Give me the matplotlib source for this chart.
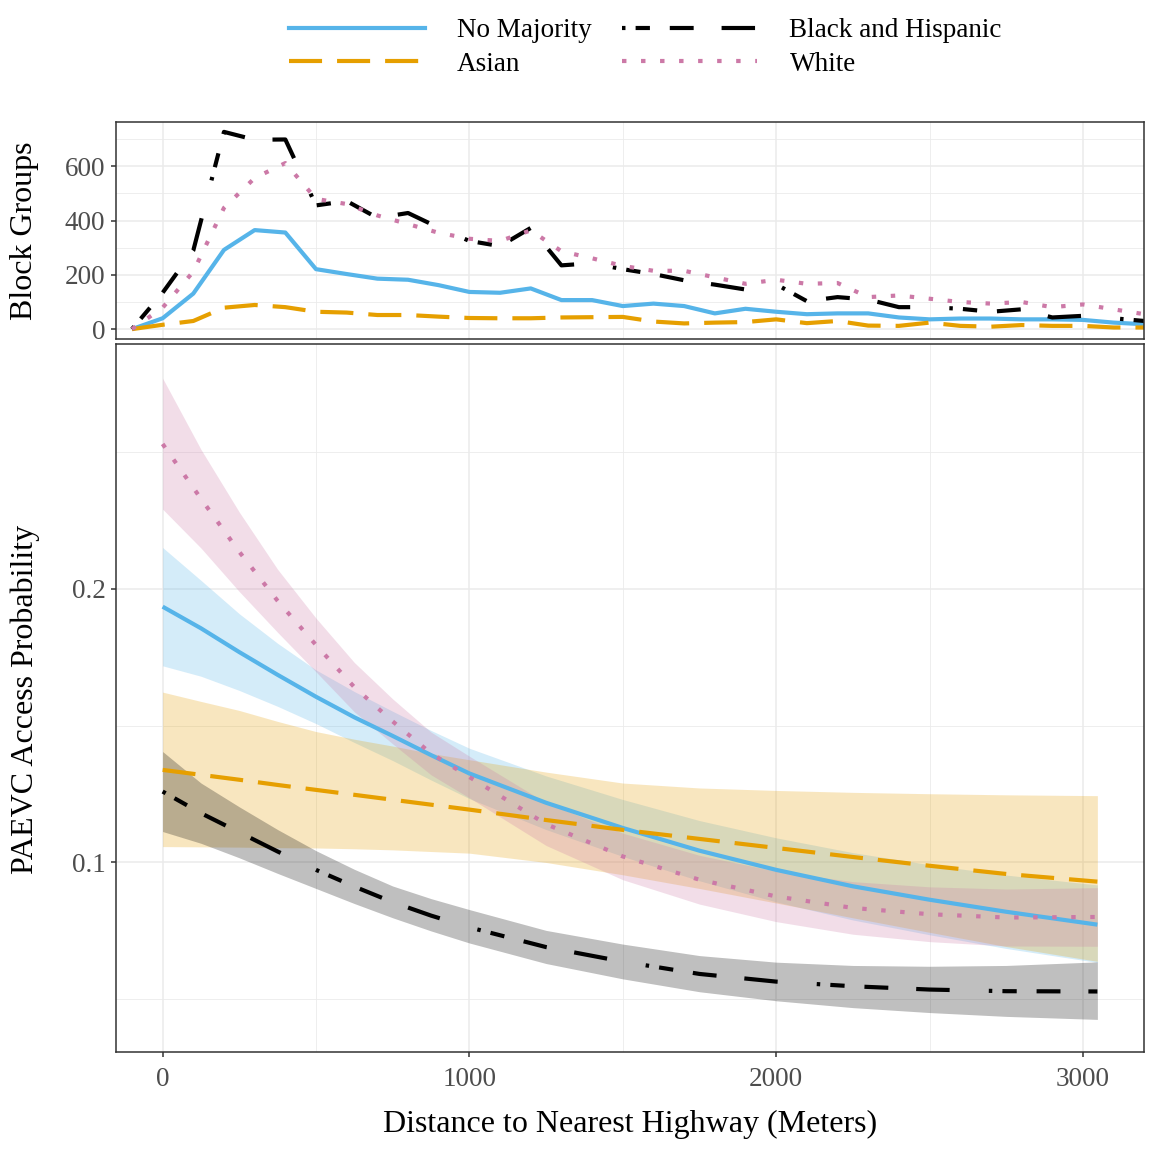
import matplotlib
matplotlib.use("Agg")
import matplotlib.pyplot as plt
from matplotlib.lines import Line2D

plt.rcParams['font.family'] = ['Liberation Serif', 'DejaVu Serif']
plt.rcParams['lines.scale_dashes'] = False

# ---------------- data ----------------
groups = ["No Majority", "Asian", "Black and Hispanic", "White"]
colors = {"No Majority": "#56B4E9", "Asian": "#E69F00",
          "Black and Hispanic": "#000000", "White": "#CC79A7"}

# top panel: block-group counts per 100 m distance bin
bins = [-100, 0, 100, 200, 300, 400, 500, 600, 700, 800, 900, 1000, 1100, 1200,
        1300, 1400, 1500, 1600, 1700, 1800, 1900, 2000, 2100, 2200, 2300, 2400,
        2500, 2600, 2700, 2800, 2900, 3000, 3100, 3200, 3300]
count_nomaj = [0, 40, 131, 292, 365, 356, 221, 203, 186, 182, 162, 137, 134, 150,
               107, 107, 85, 94, 85, 58, 75, 64, 55, 58, 58, 43,
               36, 39, 39, 36, 36, 34, 24, 18, 15]
count_asian = [0, 16, 30, 79, 89, 81, 64, 61, 52, 52, 46, 41, 40, 40,
               43, 44, 45, 28, 21, 24, 26, 36, 22, 30, 13, 12,
               24, 12, 9, 15, 12, 12, 6, 6, 5]
count_bh = [0, 134, 290, 727, 698, 699, 456, 472, 410, 428, 374, 325, 306, 373,
            235, 243, 221, 203, 180, 164, 146, 165, 103, 118, 109, 81,
            81, 75, 64, 73, 43, 49, 40, 30, 25]
count_white = [0, 79, 212, 447, 557, 612, 480, 461, 419, 387, 355, 333, 325, 364,
               287, 261, 233, 215, 215, 191, 167, 182, 167, 170, 118, 124,
               112, 100, 94, 100, 81, 91, 73, 55, 40]

# bottom panel: predicted access probability with confidence band
dist = [0, 125, 250, 375, 500, 625, 750, 875, 1000, 1250, 1500, 1750, 2000,
        2250, 2500, 2750, 3047]
p_nomaj = [0.1934, 0.1855, 0.1768, 0.1685, 0.1605, 0.1530, 0.1462, 0.1392, 0.1325,
           0.1218, 0.1126, 0.1043, 0.0973, 0.0913, 0.0864, 0.0820, 0.0773]
lo_nomaj = [0.1718, 0.1680, 0.1628, 0.1570, 0.1507, 0.1438, 0.1372, 0.1301, 0.1233,
            0.1120, 0.1022, 0.0933, 0.0856, 0.0790, 0.0736, 0.0686, 0.0635]
hi_nomaj = [0.2150, 0.2030, 0.1908, 0.1800, 0.1703, 0.1624, 0.1552, 0.1482, 0.1417,
            0.1316, 0.1230, 0.1153, 0.1090, 0.1036, 0.0992, 0.0954, 0.0918]

p_asian = [0.1338, 0.1320, 0.1302, 0.1283, 0.1265, 0.1247, 0.1229, 0.1211, 0.1193,
           0.1155, 0.1119, 0.1086, 0.1053, 0.1020, 0.0988, 0.0958, 0.0930]
lo_asian = [0.1058, 0.1057, 0.1056, 0.1054, 0.1053, 0.1050, 0.1046, 0.1040, 0.1034,
            0.1000, 0.0955, 0.0905, 0.0852, 0.0798, 0.0745, 0.0693, 0.0639]
hi_asian = [0.1622, 0.1588, 0.1555, 0.1515, 0.1478, 0.1450, 0.1425, 0.1398, 0.1375,
            0.1330, 0.1290, 0.1272, 0.1263, 0.1256, 0.1251, 0.1247, 0.1244]

p_bh = [0.1259, 0.1180, 0.1110, 0.1040, 0.0973, 0.0912, 0.0855, 0.0806, 0.0763,
        0.0691, 0.0638, 0.0593, 0.0565, 0.0548, 0.0536, 0.0530, 0.0529]
lo_bh = [0.1113, 0.1070, 0.1017, 0.0960, 0.0905, 0.0850, 0.0798, 0.0750, 0.0706,
         0.0631, 0.0575, 0.0528, 0.0495, 0.0470, 0.0452, 0.0438, 0.0427]
hi_bh = [0.1405, 0.1290, 0.1203, 0.1120, 0.1043, 0.0975, 0.0914, 0.0868, 0.0828,
         0.0752, 0.0702, 0.0660, 0.0636, 0.0624, 0.0621, 0.0624, 0.0637]

p_white = [0.2528, 0.2328, 0.2134, 0.1955, 0.1794, 0.1640, 0.1515, 0.1398, 0.1312,
           0.1140, 0.1022, 0.0937, 0.0876, 0.0834, 0.0811, 0.0799, 0.0801]
lo_white = [0.2290, 0.2148, 0.1989, 0.1840, 0.1696, 0.1550, 0.1433, 0.1320, 0.1236,
            0.1062, 0.0937, 0.0848, 0.0784, 0.0738, 0.0711, 0.0695, 0.0694]
hi_white = [0.2768, 0.2508, 0.2279, 0.2070, 0.1892, 0.1730, 0.1597, 0.1476, 0.1388,
            0.1218, 0.1107, 0.1026, 0.0968, 0.0930, 0.0911, 0.0903, 0.0908]

counts = {"No Majority": count_nomaj, "Asian": count_asian,
          "Black and Hispanic": count_bh, "White": count_white}
preds = {"No Majority": (p_nomaj, lo_nomaj, hi_nomaj),
         "Asian": (p_asian, lo_asian, hi_asian),
         "Black and Hispanic": (p_bh, lo_bh, hi_bh),
         "White": (p_white, lo_white, hi_white)}

# line styles (in points)
styles = {"No Majority": "-",
          "Asian": (0, (23.8, 10.8)),
          "Black and Hispanic": (0, (2.5, 7.3, 10.3, 14.3, 17.2, 20.1, 24.1, 28.2)),
          "White": (0, (3.2, 10.5))}
LW = 3.0

# ---------------- figure ----------------
W, H = 1152, 1151
fig = plt.figure(figsize=(W / 100, H / 100), dpi=100)
ax_top = fig.add_axes([116 / W, 1 - 339 / H, 1028 / W, 217 / H])
ax_bot = fig.add_axes([116 / W, 1 - 1052 / H, 1028 / W, 708 / H])

border = "#333333"
gridc = "#EBEBEB"
for ax in (ax_top, ax_bot):
    ax.set_axisbelow(True)
    for s in ax.spines.values():
        s.set_color(border)
        s.set_linewidth(1.1)
    ax.set_xlim(-152, 3199)
    ax.set_xticks([0, 1000, 2000, 3000])
    ax.set_xticks([500, 1500, 2500], minor=True)
    ax.grid(True, which="major", color=gridc, linewidth=1.1)
    ax.grid(True, which="minor", color=gridc, linewidth=0.6)
    ax.tick_params(which="major", length=3.6, width=1.1, color=border,
                   labelcolor="#4D4D4D", labelsize=19.5)
    ax.tick_params(axis="y", which="major", pad=4)
    ax.tick_params(axis="x", which="major", pad=7)
    ax.tick_params(which="minor", length=0)

# top panel
for g in groups:
    ax_top.plot(bins, counts[g], color=colors[g], linestyle=styles[g],
                linewidth=LW, dash_capstyle="butt", solid_capstyle="butt")
ax_top.set_ylim(-36.4, 763.4)
ax_top.set_yticks([0, 200, 400, 600])
ax_top.set_yticks([100, 300, 500, 700], minor=True)
ax_top.tick_params(axis="x", which="both", bottom=False, labelbottom=False)

# bottom panel
for g in groups:
    p, lo, hi = preds[g]
    ax_bot.fill_between(dist, lo, hi, color=colors[g], alpha=0.25, linewidth=0)
for g in groups:
    p, lo, hi = preds[g]
    ax_bot.plot(dist, p, color=colors[g], linestyle=styles[g], linewidth=LW,
                dash_capstyle="butt", solid_capstyle="butt")
ax_bot.set_ylim(0.0308, 0.2893)
ax_bot.set_yticks([0.1, 0.2])
ax_bot.set_yticklabels(["0.1", "0.2"])
ax_bot.set_yticks([0.05, 0.15, 0.25], minor=True)
ax_bot.set_xticklabels(["0", "1000", "2000", "3000"])

# labels
fig.text(25 / W, 1 - 230.5 / H, "Block Groups", rotation=90, ha="center",
         va="center", fontsize=23, color="black")
fig.text(25 / W, 1 - 699 / H, "PAEVC Access Probability", rotation=90,
         ha="center", va="center", fontsize=23, color="black")
fig.text(630 / W, 1 - 1124 / H, "Distance to Nearest Highway (Meters)",
         ha="center", va="center", fontsize=23, color="black")

# legend
handles = [Line2D([0], [0], color=colors[g], linestyle=styles[g], linewidth=LW,
                  dash_capstyle="butt") for g in groups]
fig.legend(handles, groups, ncol=2, loc="center",
           bbox_to_anchor=(645.5 / W, 1 - 47.5 / H), frameon=False,
           fontsize=19.5, handlelength=5.0, handletextpad=1.2,
           columnspacing=1.1, labelspacing=0.33)

fig.savefig("out.png", dpi=100)
